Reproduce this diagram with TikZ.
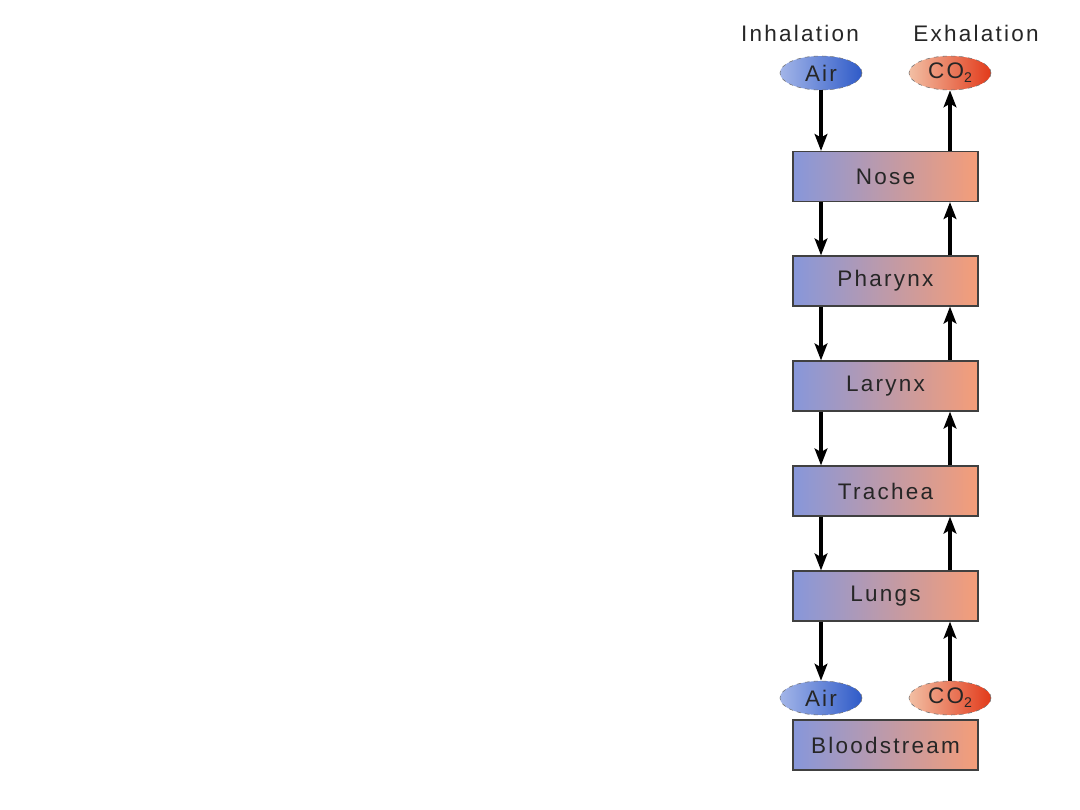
\documentclass[tikz,border=0pt]{standalone}
\usepackage{fontspec}
\setmainfont{Liberation Sans}[LetterSpace=10]
\usetikzlibrary{arrows.meta,shapes.geometric}
\definecolor{bL}{HTML}{8797DA}
\definecolor{oR}{HTML}{F59D78}
\definecolor{airD}{HTML}{2F5BC8}
\definecolor{airM}{HTML}{E8EEFB}
\definecolor{airL}{HTML}{A3B5E8}
\definecolor{coD}{HTML}{E23A1A}
\definecolor{coM}{HTML}{FCEBE0}
\definecolor{coL}{HTML}{F2BFA4}
\newcommand{\subtwo}{\raisebox{-0.35ex}{\fontsize{10}{12}\selectfont 2}}
\begin{document}
\begin{tikzpicture}[x=0.025cm,y=-0.025cm,
  txt/.style={font=\fontsize{16}{19}\selectfont,text=black!85},
  organ/.style={txt,draw=black!75,line width=0.8pt,left color=bL,right color=oR,
    minimum width=185*0.025cm,minimum height=50*0.025cm,inner sep=0pt},
  ball/.style={txt,ellipse,draw=black!55,dashed,line width=0.4pt,
    minimum width=82*0.025cm,minimum height=34*0.025cm,inner sep=0pt},
  airball/.style={ball,left color=airL,middle color=airM,right color=airD},
  coball/.style={ball,left color=coL,middle color=coM,right color=coD},
  flow/.style={-{Stealth[length=12pt,width=9pt,inset=2.5pt]},line width=2.4pt,black}]
\useasboundingbox (0,0) rectangle (1080,810);
\node[txt] (inh) at (800,33) {Inhalation};
\node[txt] (exh) at (976,33) {Exhalation};
\node[airball] (air1) at (821,73) {Air};
\node[coball] (co1) at (950,73) {CO\subtwo};
\node[organ] (nose) at (885.5,176.5) {Nose};
\node[organ] (phar) at (885.5,281) {Pharynx};
\node[organ] (lar) at (885.5,386) {Larynx};
\node[organ] (tra) at (885.5,491) {Trachea};
\node[organ] (lun) at (885.5,596) {Lungs};
\node[organ] (blood) at (885.5,745) {Bloodstream};
\node[airball] (air2) at (821,698) {Air};
\node[coball] (co2) at (950,698) {CO\subtwo};
% left column (down)
\draw[flow] (air1.south) -- (air1.south |- nose.north);
\draw[flow] (nose.south -| air1) -- (phar.north -| air1);
\draw[flow] (phar.south -| air1) -- (lar.north -| air1);
\draw[flow] (lar.south -| air1) -- (tra.north -| air1);
\draw[flow] (tra.south -| air1) -- (lun.north -| air1);
\draw[flow] (lun.south -| air1) -- (air2.north);
% right column (up)
\draw[flow] (nose.north -| co1) -- (co1.south);
\draw[flow] (phar.north -| co1) -- (nose.south -| co1);
\draw[flow] (lar.north -| co1) -- (phar.south -| co1);
\draw[flow] (tra.north -| co1) -- (lar.south -| co1);
\draw[flow] (lun.north -| co1) -- (tra.south -| co1);
\draw[flow] (co2.north) -- (lun.south -| co1);
\end{tikzpicture}
\end{document}
